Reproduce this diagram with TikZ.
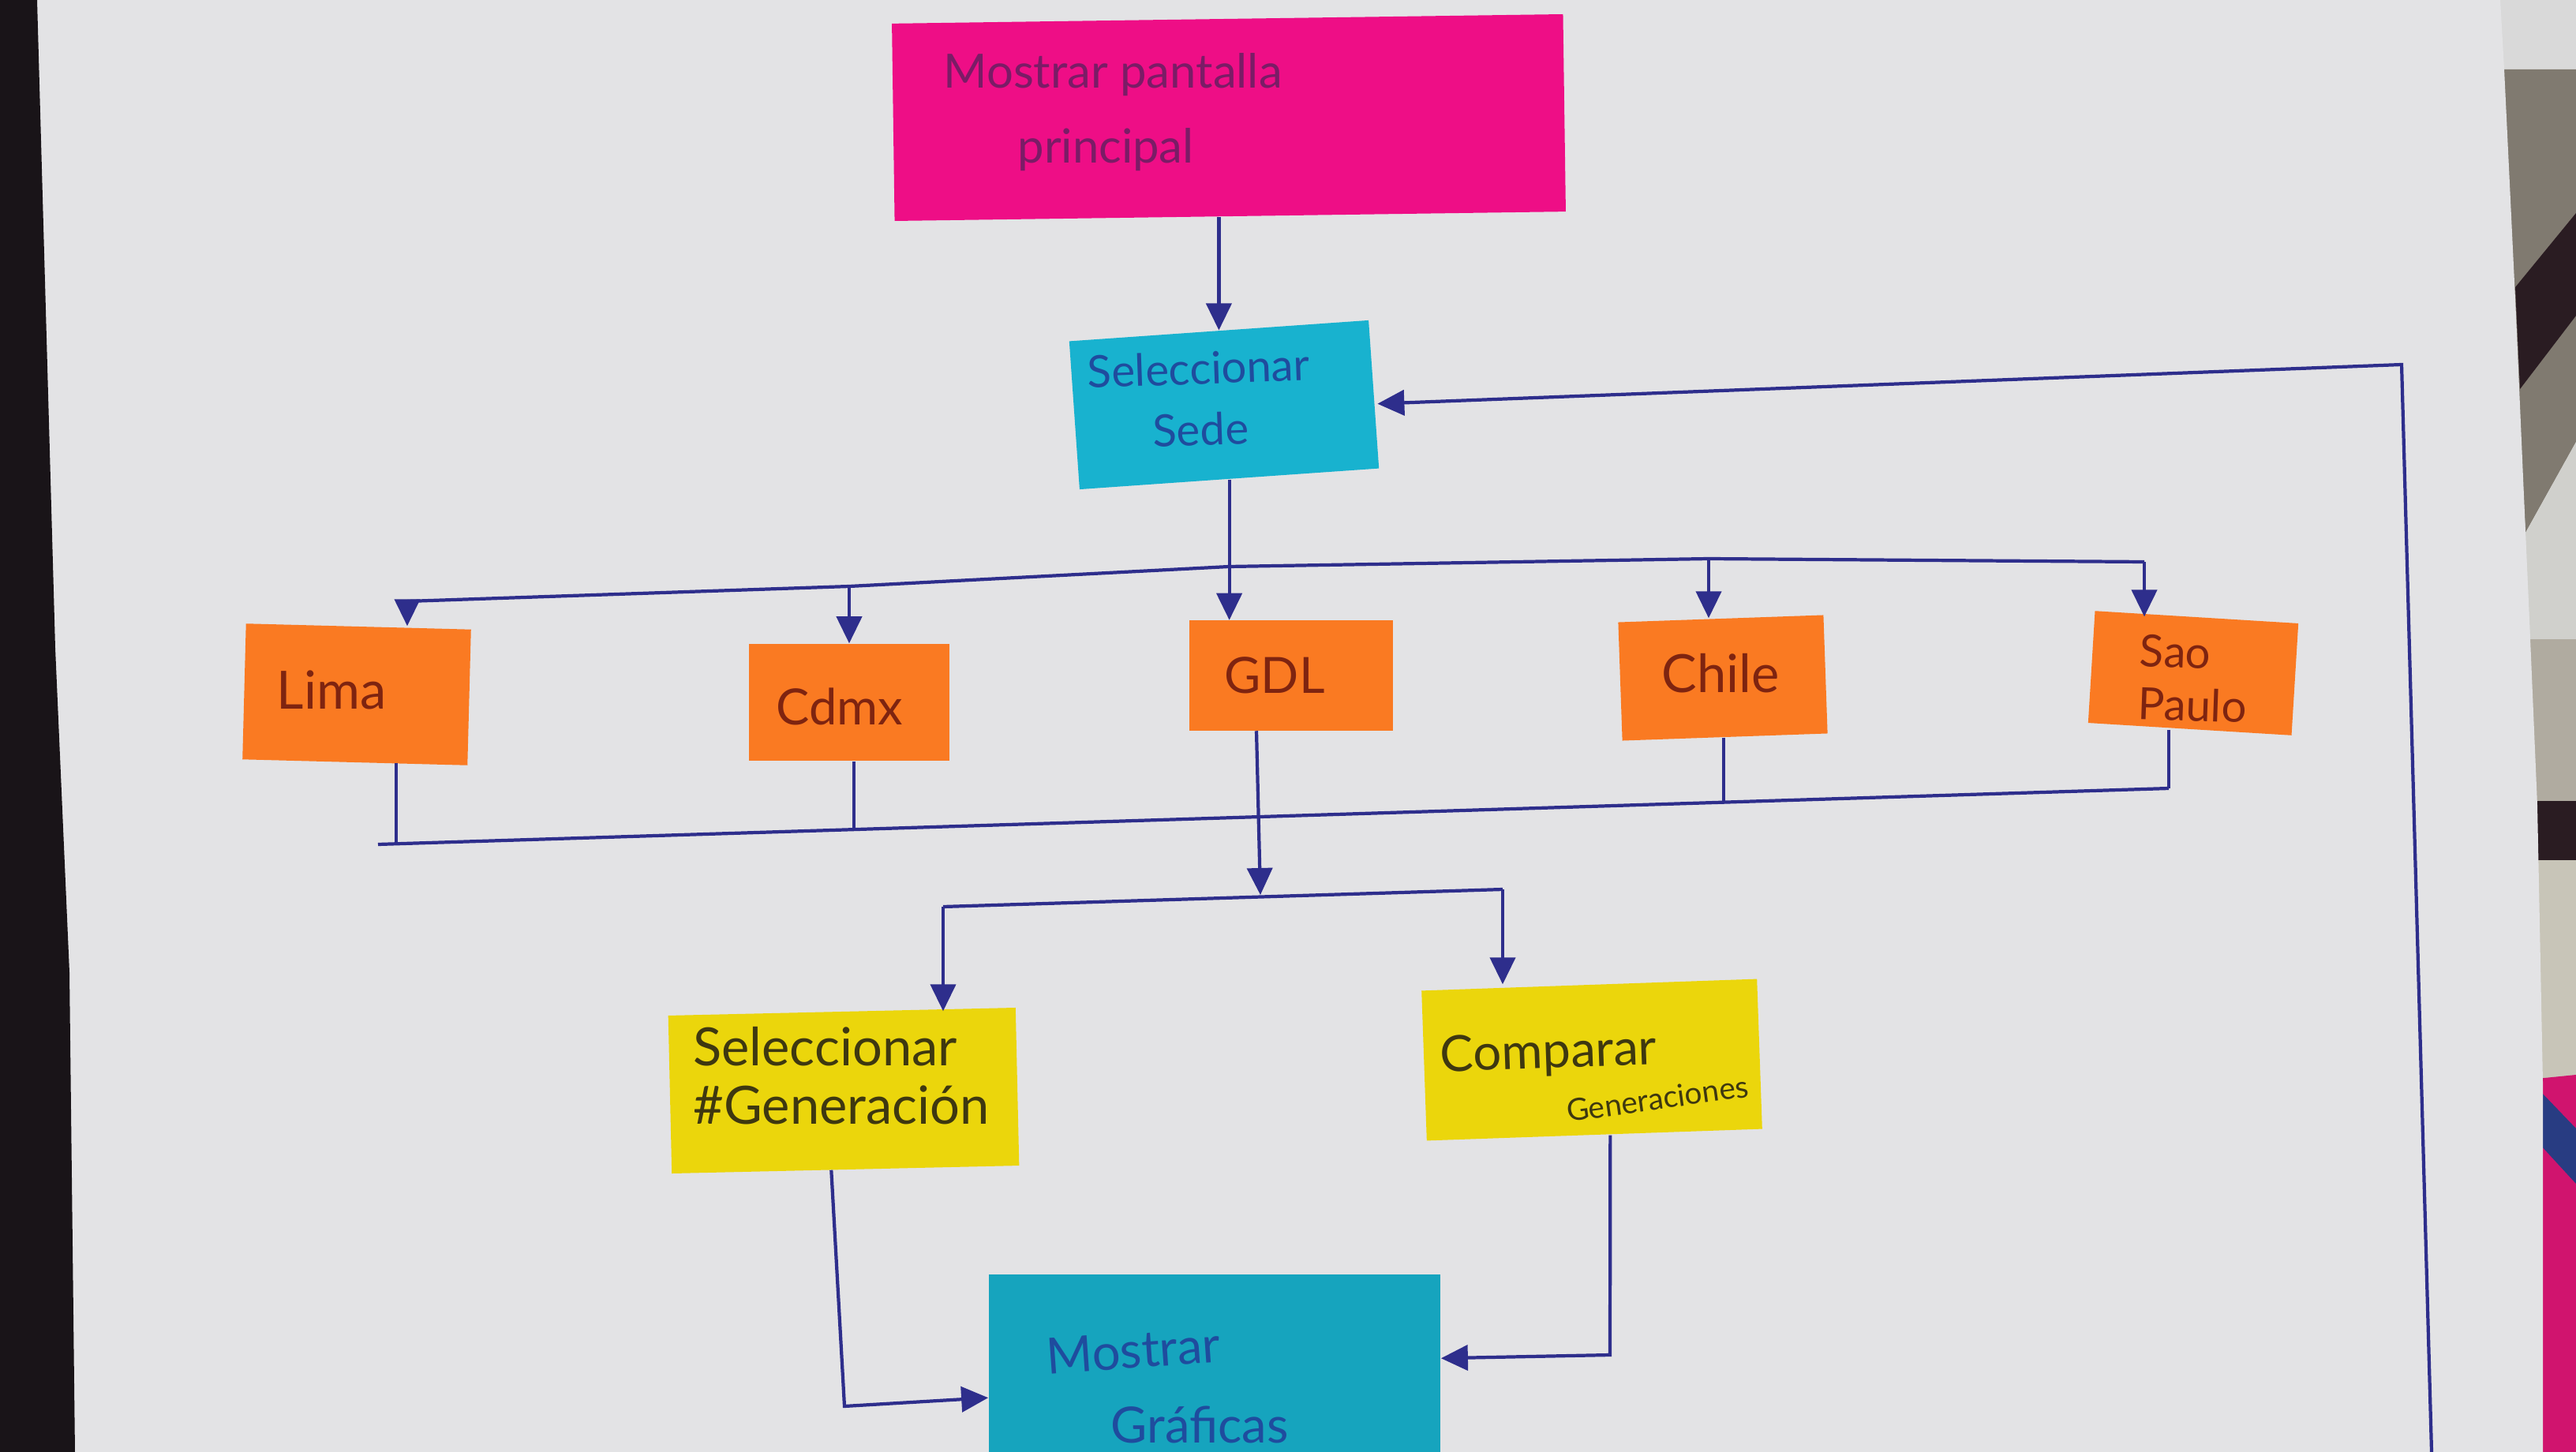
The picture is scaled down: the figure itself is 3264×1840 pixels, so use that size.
\documentclass[tikz,border=0pt]{standalone}
\usepackage{fontspec}
\setmainfont{Lato}
\usetikzlibrary{arrows.meta,calc}
\definecolor{paper}{HTML}{E3E3E5}
\definecolor{darkedge}{HTML}{191418}
\definecolor{bgmag}{HTML}{D0146E}
\definecolor{pen}{HTML}{2E2E8C}
\definecolor{pinkn}{HTML}{EE0E86}
\definecolor{pinkt}{HTML}{7A1C66}
\definecolor{cyann}{HTML}{18B2CF}
\definecolor{cyant}{HTML}{1F4C9E}
\definecolor{orangen}{HTML}{FA7A22}
\definecolor{oranget}{HTML}{7E2410}
\definecolor{yellown}{HTML}{EBD60C}
\definecolor{yellowt}{HTML}{3E3810}
\definecolor{bgA}{HTML}{D9D9D9}
\definecolor{bgB}{HTML}{807A70}
\definecolor{bgC}{HTML}{2A1C22}
\definecolor{bgD}{HTML}{D0D0CC}
\definecolor{bgE}{HTML}{B0ABA0}
\definecolor{bgF}{HTML}{C8C5B8}
\definecolor{bgG}{HTML}{283C82}
\tikzset{
  note/.style={draw=none, inner sep=0pt},
  txt/.style={inner sep=0pt, align=center},
  ln/.style={draw=pen, line width=1.2pt},
  arr/.style={draw=pen, line width=1.2pt, -{Triangle[length=0.34cm,width=0.32cm]}, fill=none},
}
\begin{document}
\begin{tikzpicture}[x=0.01cm,y=-0.01cm]
\useasboundingbox (0,0) rectangle (3264,1840);
% background
\fill[bgA] (0,0) rectangle (3264,1840);
\fill[bgB] (3170,88) -- (3264,88) -- (3264,560) -- (3200,675) -- cycle;
\fill[bgC] (3187,364) -- (3264,270) -- (3264,400) -- (3193,493) -- cycle;
\fill[bgD] (3200,675) -- (3264,560) -- (3264,810) -- (3206,810) -- cycle;
\fill[bgE] (3206,810) rectangle (3264,1015);
\fill[bgC] (3210,1015) rectangle (3264,1090);
\fill[bgF] (3212,1090) rectangle (3264,1367);
\fill[bgmag] (3214,1367) -- (3264,1362) -- (3264,1840) -- (3222,1840) -- cycle;
\fill[bgG] (3216,1380) -- (3264,1430) -- (3264,1500) -- (3218,1450) -- cycle;
\fill[paper] (47,0) -- (3168,0) -- (3173,88) -- (3188,400) -- (3200,675) -- (3206,810) -- (3215,1021) -- (3222,1373) -- (3222,1840) -- (95,1840) -- (88,1232) -- (70,821) -- cycle;
\fill[darkedge] (0,0) -- (47,0) -- (70,821) -- (88,1232) -- (95,1840) -- (0,1840) -- cycle;

% notes
\node[note, fill=pinkn, minimum width=8.5cm, minimum height=2.5cm, rotate=0.8] (pink) at (1557,149) {};
\node[txt, text=pinkt, align=left, font=\fontsize{17}{27}\selectfont] (pinkl) at (1410,142) {Mostrar pantalla\\\hspace*{0.94cm}principal};

\node[note, fill=cyann, minimum width=3.8cm, minimum height=1.88cm, rotate=4] (sede) at (1551,513) {};
\node[txt, text=cyant, font=\fontsize{16}{22}\selectfont, rotate=2] (sedel) at (1520,505) {Seleccionar\\Sede};

\node[note, fill=orangen, minimum width=2.85cm, minimum height=1.72cm, rotate=-1.5] (lima) at (452,880) {};
\node[txt, text=oranget, font=\fontsize{19}{22}\selectfont] (limal) at (420,874) {Lima};

\node[note, fill=orangen, minimum width=2.54cm, minimum height=1.48cm] (cdmx) at (1076,890) {};
\node[txt, text=oranget, font=\fontsize{18}{22}\selectfont] (cdmxl) at (1064,895) {Cdmx};

\node[note, fill=orangen, minimum width=2.58cm, minimum height=1.39cm] (gdl) at (1636,856) {};
\node[txt, text=oranget, font=\fontsize{18}{22}\selectfont] (gdll) at (1615,856) {GDL};

\node[note, fill=orangen, minimum width=2.6cm, minimum height=1.5cm, rotate=2] (chile) at (2183,859) {};
\node[txt, text=oranget, font=\fontsize{19}{22}\selectfont] (chilel) at (2180,853) {Chile};

\node[note, fill=orangen, minimum width=2.58cm, minimum height=1.42cm, rotate=-3.5] (sao) at (2779,853) {};
\node[txt, text=oranget, align=left, font=\fontsize{16}{19}\selectfont, rotate=-2] (saol) at (2779,860) {Sao\\Paulo};

\node[note, fill=yellown, minimum width=4.4cm, minimum height=2.0cm, rotate=1.3] (selgen) at (1069,1382) {};
\node[txt, text=yellowt, align=left, font=\fontsize{19}{21}\selectfont] (selgenl) at (1066,1363) {Seleccionar\\\#Generación};

\node[note, fill=yellown, minimum width=4.25cm, minimum height=1.9cm, rotate=2] (comp) at (2017,1343) {};
\node[txt, text=yellowt, font=\fontsize{18}{22}\selectfont, rotate=2] (compl) at (1962,1336) {Comparar};
\node[txt, text=yellowt, font=\fontsize{11}{13}\selectfont, rotate=8] (compl2) at (2100,1392) {Generaciones};

\node[note, fill=cyann!92!black, minimum width=5.72cm, minimum height=2.25cm] (mg) at (1539,1727.5) {};
\node[txt, text=cyant, font=\fontsize{18}{22}\selectfont, rotate=4] (mgl1) at (1436,1711) {Mostrar};
\node[txt, text=cyant, font=\fontsize{18}{22}\selectfont] (mgl2) at (1520,1805) {Gráficas};

% connectors
\draw[arr] (sede.north |- pink.south) -- (sede.north);

\coordinate (lb) at (3081,1840);
\coordinate (lc) at (3043,462);
\draw[arr] (lb) -- (lc) -- ($(sede.east)+(4,12)$);

\coordinate (b1) at (516,762);
\coordinate (b2) at (1076,743);
\coordinate (b3) at (1557,718);
\coordinate (b4) at (2165,708);
\coordinate (b5) at (2717,712);
\draw[ln] (b1) -- (b2) -- (b3) -- (b4) -- (b5);
\draw[arr] (b1) -- (b1 |- lima.north);
\draw[arr] (b2) -- (b2 |- cdmx.north);
\draw[arr] (sede.south) -- (sede.south |- gdl.north);
\draw[arr] (b4) -- (b4 |- chile.north);
\draw[arr] (b5) -- (b5 |- sao.north);

\coordinate (cL) at (479,1070);
\coordinate (k1) at (502,1069);
\coordinate (k2) at (1082,1051);
\coordinate (k4) at (2184,1017);
\coordinate (k5) at (2748,999);
\draw[ln] (cL) -- (k5);
\draw[ln] (k1 |- lima.south) -- (k1);
\draw[ln] (k2 |- cdmx.south) -- (k2);
\draw[ln] (k4 |- chile.south) -- (k4);
\draw[ln] (k5 |- sao.south) -- (k5);

\coordinate (s0) at (1597,1134);
\coordinate (sL) at (1195,1149);
\coordinate (sR) at (1904,1127);
\draw[arr] ($(gdl.south)+(-44,0)$) -- (s0);
\draw[ln] (sL) -- (sR);
\draw[arr] (sL) -- (sL |- selgen.north);
\draw[arr] (sR) -- (sR |- comp.north);

\coordinate (m1) at (1070,1782);
\draw[arr] ($(selgen.south)+(-18,0)$) -- (m1) -- ($(mg.north west)+(0,157)$);
\coordinate (m2) at (2040,1717);
\draw[arr] ($(comp.south)+(20,0)$) -- (m2) -- ($(mg.north east)+(0,107)$);
\end{tikzpicture}
\end{document}
